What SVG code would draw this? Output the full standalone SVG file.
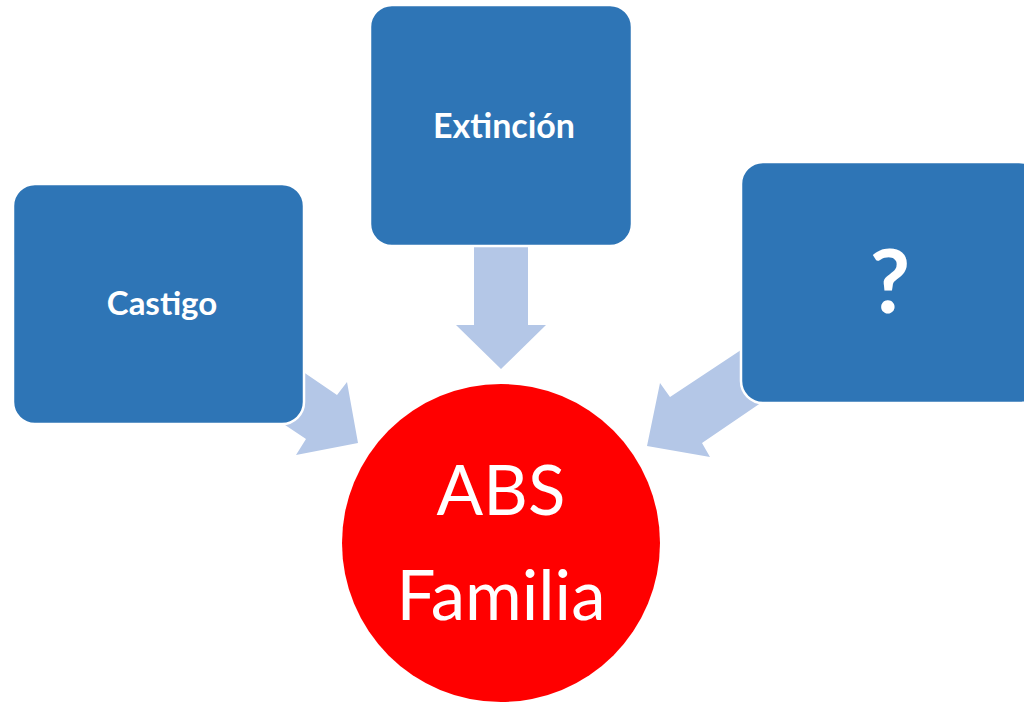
<svg xmlns="http://www.w3.org/2000/svg" width="1024" height="704" viewBox="0 0 1024 704">
<style>
.box{fill:#2E75B6;stroke:#ffffff;stroke-width:2.5}
.arr{fill:#B4C7E7}
.lbl{font-family:Lato,"Open Sans","Liberation Sans",sans-serif;font-weight:bold;fill:#ffffff;text-anchor:middle}
.circ{font-family:Lato,"Open Sans","Liberation Sans",sans-serif;fill:#ffffff;text-anchor:middle;font-size:69px}
</style>
<rect width="1024" height="704" fill="#ffffff"/>
<g id="connectors">
<polygon class="arr" points="274,352 337,395 347,382 358,443 296,455 306,439 252,403"/>
<polygon class="arr" points="474,247 528,247 528,325 546,325 501,369 456,325 474,325"/>
<polygon class="arr" points="768,332 670,397 660,383 647,446 710,457 702,443 787,385"/>
</g>
<g id="castigo">
<rect class="box" x="13" y="184" width="291" height="240" rx="22"/>
<text class="lbl" x="162" y="315" font-size="33">Castigo</text>
</g>
<g id="extincion">
<rect class="box" x="370" y="5" width="262" height="241" rx="22"/>
<text class="lbl" x="504" y="138" font-size="34">Extinción</text>
</g>
<g id="pregunta">
<rect class="box" x="741" y="162" width="300" height="241" rx="22"/>
<text class="lbl" x="890" y="313" font-size="88">?</text>
</g>
<g id="abs-familia">
<circle cx="501" cy="543" r="159" fill="#FF0000"/>
<text class="circ" x="501" y="515">ABS</text>
<text class="circ" x="501" y="620">Familia</text>
</g>
</svg>
